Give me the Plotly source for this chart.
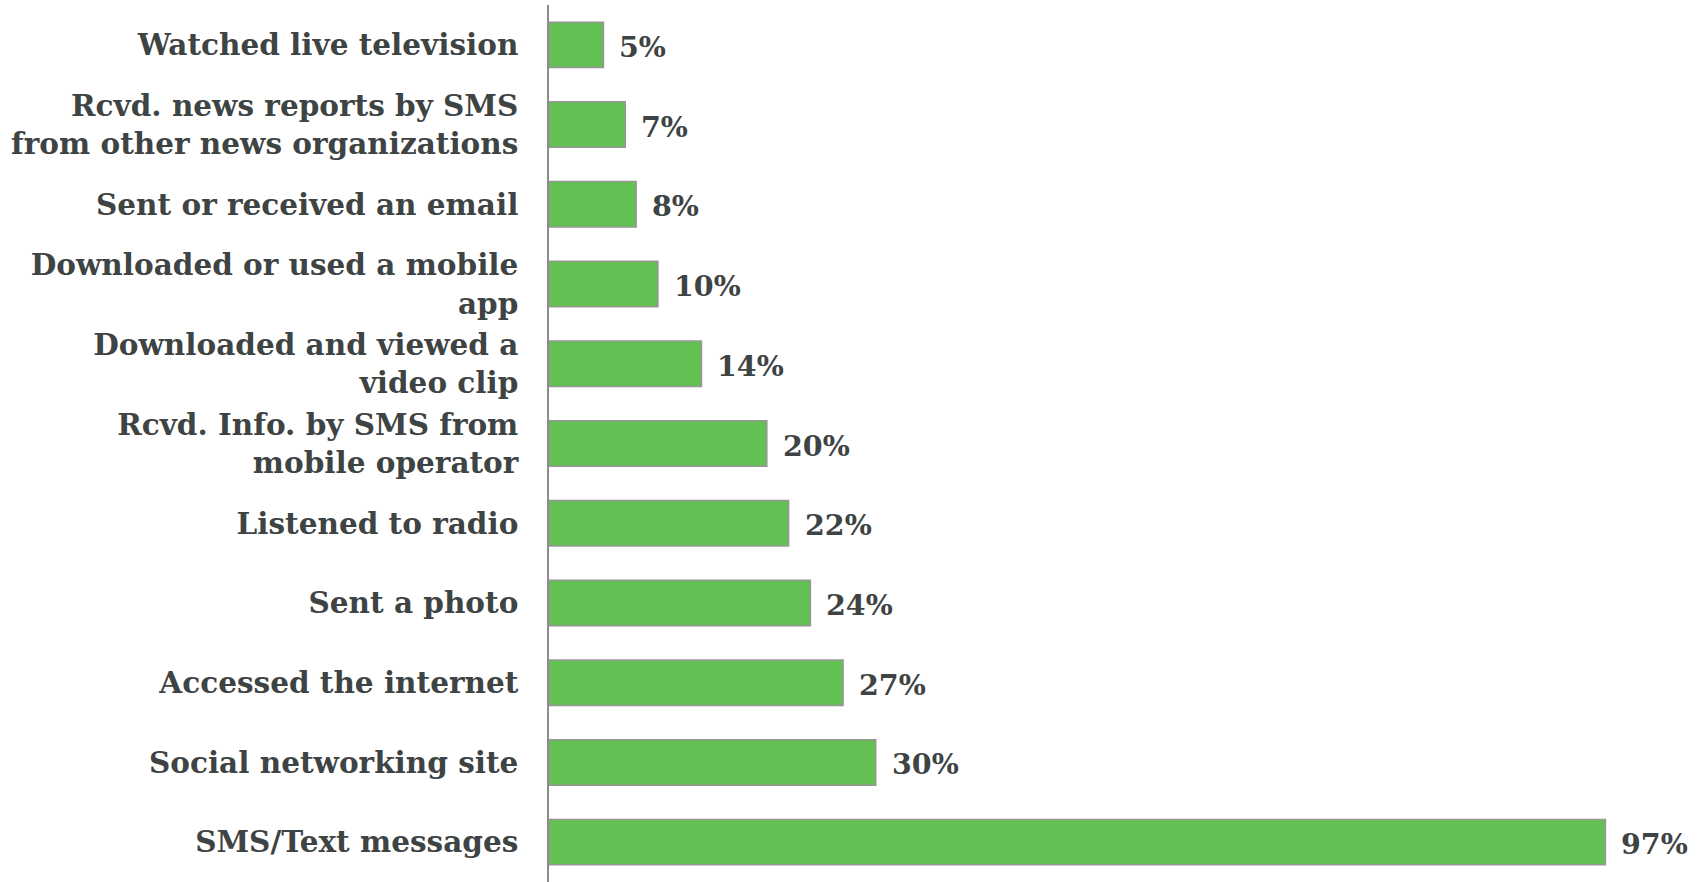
import plotly.graph_objects as go

# Share of mobile users doing each activity (percent), top to bottom
categories = [
    "Watched live television",
    "Rcvd. news reports by SMS<br>from other news organizations",
    "Sent or received an email",
    "Downloaded or used a mobile<br>app",
    "Downloaded and viewed a<br>video clip",
    "Rcvd. Info. by SMS from<br>mobile operator",
    "Listened to radio",
    "Sent a photo",
    "Accessed the internet",
    "Social networking site",
    "SMS/Text messages",
]
values = [5, 7, 8, 10, 14, 20, 22, 24, 27, 30, 97]
value_labels = [f"{v}%" for v in values]

FONT = "DejaVu Serif, serif"
TEXT_COLOR = "#3E4343"

fig = go.Figure(
    go.Bar(
        x=values,
        y=categories,
        orientation="h",
        marker=dict(color="#62C152", line=dict(color="#969696", width=1.5)),
        width=0.57,
        hoverinfo="skip",
    )
)

for cat, v, lab in zip(categories, values, value_labels):
    fig.add_annotation(
        x=v, y=cat, text=f"<b>{lab}</b>", showarrow=False,
        xanchor="left", xshift=14, yshift=-2,
        font=dict(family=FONT, size=28.5, color=TEXT_COLOR),
    )

fig.update_layout(
    width=1698, height=882,
    margin=dict(l=549, r=0, t=5, b=0),
    paper_bgcolor="white", plot_bgcolor="white",
    showlegend=False,
    font=dict(family=FONT, size=29, color=TEXT_COLOR),
    xaxis=dict(range=[0, 105.5], visible=False, showgrid=False, zeroline=False),
    yaxis=dict(
        autorange="reversed",
        showline=True, linecolor="#8C8C8C", linewidth=1.5,
        showgrid=False, ticks="",
        ticklabelstandoff=23,
        tickfont=dict(family=FONT, size=29.5, color=TEXT_COLOR, weight="bold"),
    ),
)

fig.write_html("out.html")
